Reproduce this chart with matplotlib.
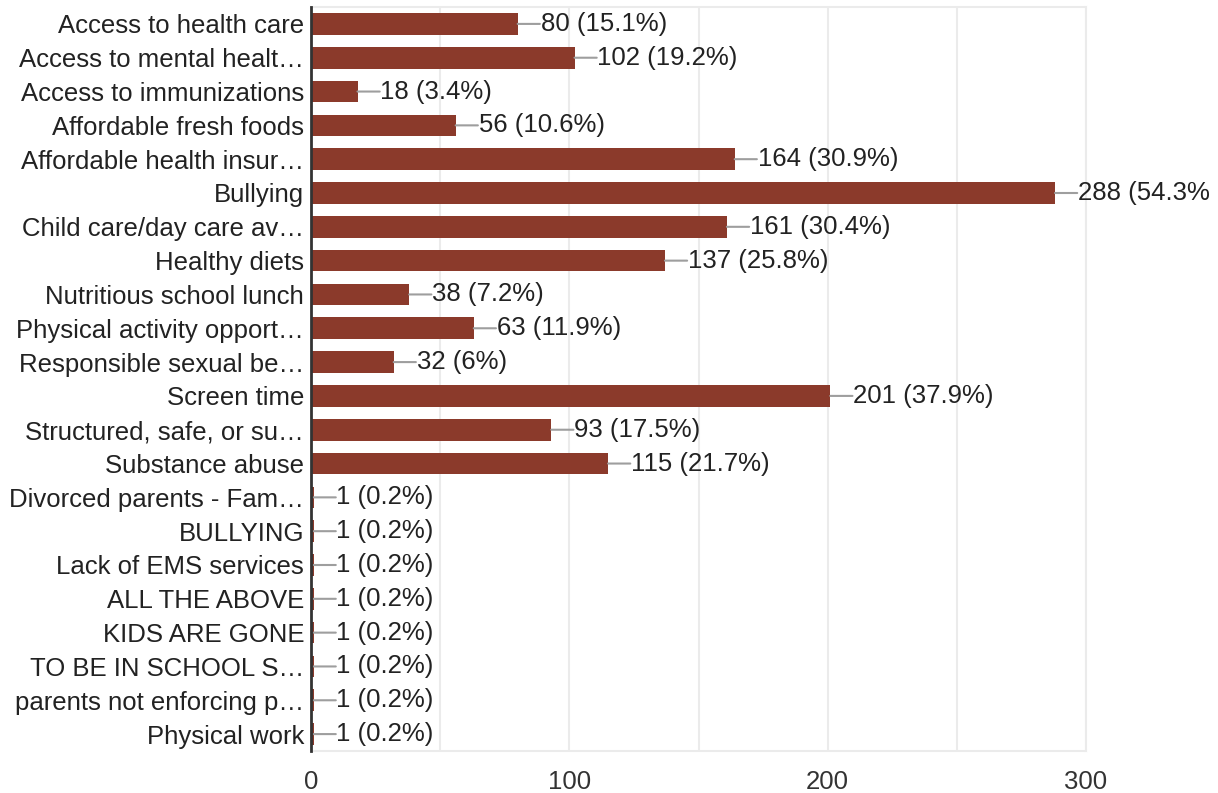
import matplotlib
matplotlib.use("Agg")
import matplotlib.pyplot as plt
from matplotlib.transforms import Bbox, TransformedBbox

plt.rcParams['font.family'] = ['Liberation Sans', 'DejaVu Sans']

categories = [
    "Access to health care",
    "Access to mental healt\u2026",
    "Access to immunizations",
    "Affordable fresh foods",
    "Affordable health insur\u2026",
    "Bullying",
    "Child care/day care av\u2026",
    "Healthy diets",
    "Nutritious school lunch",
    "Physical activity opport\u2026",
    "Responsible sexual be\u2026",
    "Screen time",
    "Structured, safe, or su\u2026",
    "Substance abuse",
    "Divorced parents - Fam\u2026",
    "BULLYING",
    "Lack of EMS services",
    "ALL THE ABOVE",
    "KIDS ARE GONE",
    "TO BE IN SCHOOL S\u2026",
    "parents not enforcing p\u2026",
    "Physical work",
]
counts = [80, 102, 18, 56, 164, 288, 161, 137, 38, 63, 32, 201, 93, 115,
          1, 1, 1, 1, 1, 1, 1, 1]
total_responses = 530
x_ticks = [0, 100, 200, 300]

bar_color = "#8b3a2b"
text_color = "#222222"
fs = 18.5

fig = plt.figure(figsize=(12.18, 7.93), dpi=100)
ax = fig.add_axes([311 / 1218, 1 - 751 / 793, 775 / 1218, 744 / 793])

# value labels are clipped to the chart's drawing area
chart_area = TransformedBbox(Bbox.from_extents(0, 0, 1210 / 1218, 1),
                             fig.transFigure)

y = list(range(len(categories)))
ax.barh(y, counts, height=0.64, color=bar_color, zorder=3)

def pct_text(c):
    p = round(100 * c / total_responses, 1)
    s = f"{p:.1f}"
    if s.endswith(".0"):
        s = s[:-2]
    return f"{c} ({s}%)"

for yi, c in zip(y, counts):
    ax.annotate("", xy=(c, yi), xytext=(16, 0), textcoords="offset points",
                arrowprops=dict(arrowstyle="-", color="#9e9e9e", lw=1.5,
                                shrinkA=0, shrinkB=0),
                annotation_clip=False, zorder=4)
    t = ax.annotate(pct_text(c), xy=(c, yi), xytext=(16.5, 0),
                    textcoords="offset points", va="center", ha="left",
                    fontsize=fs, color=text_color, annotation_clip=False,
                    zorder=5)
    t.set_clip_on(True)
    t.set_clip_box(chart_area)

ax.set_xlim(0, 300)
ax.set_ylim(len(categories) - 0.5, -0.5)
ax.set_yticks(y)
ax.set_yticklabels(categories, fontsize=fs, color=text_color)
ax.set_xticks(x_ticks)
ax.set_xticklabels([str(t) for t in x_ticks], fontsize=fs, color="#333333")
ax.set_xticks(range(0, 301, 50), minor=True)
ax.tick_params(axis="both", length=0, which="both")
ax.tick_params(axis="y", pad=5)
ax.tick_params(axis="x", pad=14)

ax.grid(axis="x", which="both", color="#ebebeb", lw=1.5, zorder=0)
for side in ["top", "right", "bottom"]:
    ax.spines[side].set_color("#ebebeb")
    ax.spines[side].set_linewidth(1.5)
ax.spines["left"].set_color("#333333")
ax.spines["left"].set_linewidth(2)
ax.spines["left"].set_zorder(6)

fig.savefig("out.png", dpi=100, facecolor="white")
